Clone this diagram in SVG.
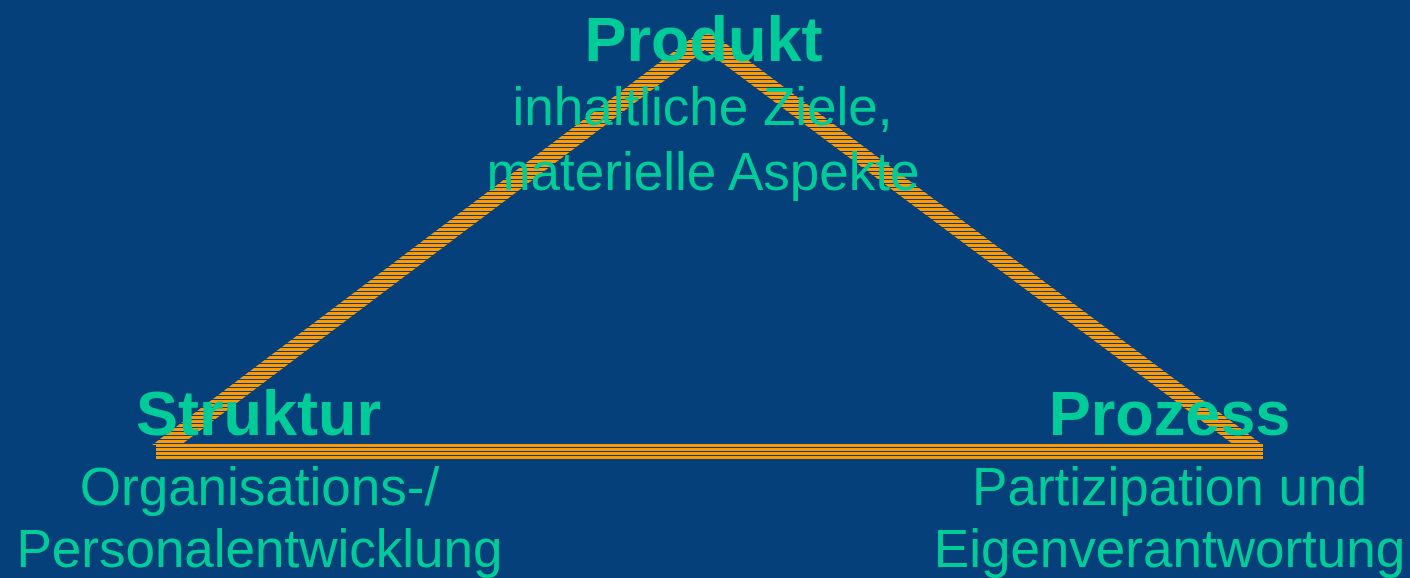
<svg xmlns="http://www.w3.org/2000/svg" width="1410" height="578" viewBox="0 0 1410 578">
<defs>
<pattern id="hatch" patternUnits="userSpaceOnUse" x="0" y="0" width="10" height="4">
<rect width="10" height="4" fill="#FF9900"/>
<rect y="3" width="10" height="1" fill="#05407A"/>
</pattern>
</defs>
<style>
.t{font-family:"Liberation Sans",Arial,sans-serif;fill:#00CC99;text-anchor:middle}
.b{font-weight:bold;font-size:63px}
.r{font-size:53px}
.band{fill:url(#hatch)}
</style>
<rect width="1410" height="578" fill="#05407A"/>
<g id="connectors">
<polygon class="band" points="705,28 705,50 181,445 152,445"/>
<polygon class="band" points="705,28 1263,445 1234,445 705,50"/>
<rect class="band" x="156" y="443" width="1107" height="16"/>
</g>
<g id="produkt">
<text class="t b" x="703.5" y="61">Produkt</text>
<text class="t r" x="702.5" y="125">inhaltliche Ziele,</text>
<text class="t r" x="703" y="190">materielle Aspekte</text>
</g>
<g id="struktur">
<text class="t b" x="258.5" y="435">Struktur</text>
<text class="t r" x="259.5" y="505">Organisations-/</text>
<text class="t r" x="259.5" y="567">Personalentwicklung</text>
</g>
<g id="prozess">
<text class="t b" x="1169.5" y="435">Prozess</text>
<text class="t r" x="1169.5" y="505">Partizipation und</text>
<text class="t r" x="1169.5" y="567">Eigenverantwortung</text>
</g>
</svg>
